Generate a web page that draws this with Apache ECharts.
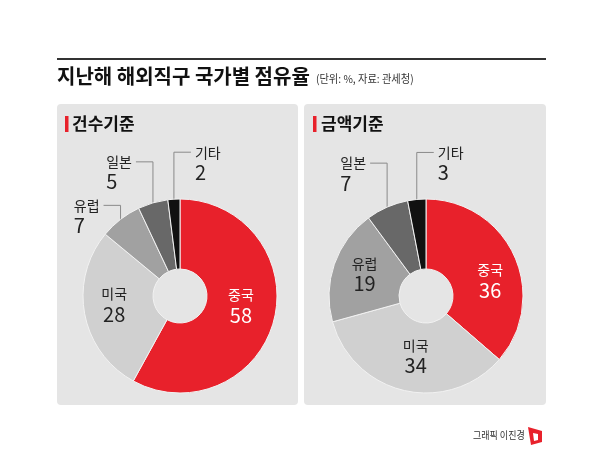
<!DOCTYPE html>
<html>
<head>
<meta charset="utf-8">
<script src="https://cdn.jsdelivr.net/npm/echarts@6/dist/echarts.min.js"></script>
<style>
  html, body { margin: 0; padding: 0; background: #fff; }
  #main { width: 600px; height: 454px; }
</style>
</head>
<body>
<div id="main"></div>
<script>
// 데이터
const countries = ['중국', '미국', '유럽', '일본', '기타'];
const countValues = [58, 28, 7, 5, 2];   // 건수기준
const amountValues = [36, 34, 19, 7, 3]; // 금액기준
const panelTitles = ['건수기준', '금액기준'];

const FONT = '"Noto Sans CJK KR", "Noto Sans", sans-serif';
const RED = '#e8212b';
const sliceColors = [RED, '#d0d0d0', '#a1a1a1', '#686868', '#111111'];

// 바깥 라벨 (지시선) 설정
const outsideLabels = [
  { '유럽': { side: 'left', rise: 14 }, '일본': { side: 'left', rise: 41 }, '기타': { side: 'right', rise: 47 } },
  { '일본': { side: 'left', rise: 44 }, '기타': { side: 'right', rise: 47 } }
];
// 안쪽 라벨 위치 보정
const insideShift = [
  { '중국': [-2, -6], '미국': [-2, -3] },
  { '중국': [5, 12], '미국': [4, -3] }
];

function makeSeries(idx, values, center) {
  const outside = outsideLabels[idx];
  const shift = insideShift[idx];
  return {
    type: 'pie',
    center: center,
    radius: [27, 97],
    startAngle: 90,
    clockwise: true,
    avoidLabelOverlap: false,
    silent: true,
    itemStyle: { borderColor: '#f2f2f2', borderWidth: 1 },
    label: {
      position: 'inside',
      color: '#222',
      fontFamily: FONT,
      formatter: '{n|{b}}\n{v|{c}}',
      rich: {
        n: { fontSize: 14, lineHeight: 18, fontFamily: FONT },
        v: { fontSize: 20, lineHeight: 22, fontFamily: FONT },
        on: { fontSize: 14, lineHeight: 18, align: 'left', fontFamily: FONT },
        ov: { fontSize: 20, lineHeight: 22, align: 'left', fontFamily: FONT }
      }
    },
    labelLine: { show: false },
    labelLayout: function (p) {
      const name = countries[p.dataIndex];
      const o = outside[name];
      if (o && p.labelLinePoints) {
        const start = p.labelLinePoints[0];
        const lineY = start[1] - o.rise;
        const endX = o.side === 'right' ? start[0] + 17 : start[0] - 17;
        // 텍스트 블록 왼쪽 끝 계산 (labelRect 너비 사용)
        const left = o.side === 'right' ? endX + 4 : endX - 4 - p.labelRect.width;
        return {
          x: left,
          y: lineY - 9,
          align: 'left',
          verticalAlign: 'top',
          labelLinePoints: [[start[0], start[1] + 5], [start[0], lineY], [endX, lineY]]
        };
      }
      const s = shift[name] || [0, 0];
      return { dx: s[0], dy: s[1] };
    },
    data: countries.map(function (name, i) {
      const item = { name: name, value: values[i], itemStyle: { color: sliceColors[i] } };
      if (outside[name]) {
        item.label = { position: 'outside', formatter: '{on|{b}}\n{ov|{c}}' };
        item.labelLine = { show: true, lineStyle: { color: '#8a8a8a', width: 1 } };
      } else if (name === '중국') {
        item.label = { color: '#fff' };
      }
      return item;
    })
  };
}

function txt(text, x, y, size, opts) {
  opts = opts || {};
  return {
    type: 'text', x: x, y: y, scaleX: opts.scaleX || 1,
    style: {
      text: text, x: 0, y: 0,
      fontSize: size, fontWeight: opts.bold ? 'bold' : 'normal',
      fontFamily: FONT, fill: opts.color || '#111',
      verticalAlign: 'middle', align: 'left'
    }
  };
}

var myChart = echarts.init(document.getElementById('main'));
myChart.setOption({
  backgroundColor: '#fff',
  animation: false,
  graphic: [
    { type: 'rect', shape: { x: 57, y: 58, width: 489, height: 2 }, style: { fill: '#333' } },
    txt('지난해 해외직구 국가별 점유율', 57, 76, 20, { bold: true }),
    txt('(단위: %, 자료: 관세청)', 316, 79, 11, { scaleX: 0.93, color: '#333' }),
    // 패널 배경
    { type: 'rect', shape: { x: 57, y: 104, width: 241, height: 301, r: 4 }, style: { fill: '#e5e5e5' } },
    { type: 'rect', shape: { x: 304, y: 104, width: 242, height: 301, r: 4 }, style: { fill: '#e5e5e5' } },
    { type: 'rect', shape: { x: 65, y: 116, width: 3.5, height: 16 }, style: { fill: RED } },
    { type: 'rect', shape: { x: 313, y: 116, width: 3.5, height: 16 }, style: { fill: RED } },
    txt(panelTitles[0], 72, 124, 17, { bold: true }),
    txt(panelTitles[1], 321, 124, 17, { bold: true }),
    // 크레딧
    txt('그래픽 이진경', 473, 435, 10, { scaleX: 0.9, color: '#333' }),
    { type: 'polygon', shape: { points: [[528, 427], [542, 431], [542, 442], [531, 445]] }, style: { fill: RED } },
    { type: 'polygon', shape: { points: [[533, 433], [538, 434], [538, 440], [534, 441]] }, style: { fill: '#fff' } }
  ],
  series: [
    makeSeries(0, countValues, [180, 296]),
    makeSeries(1, amountValues, [426, 296])
  ]
});
</script>
</body>
</html>
